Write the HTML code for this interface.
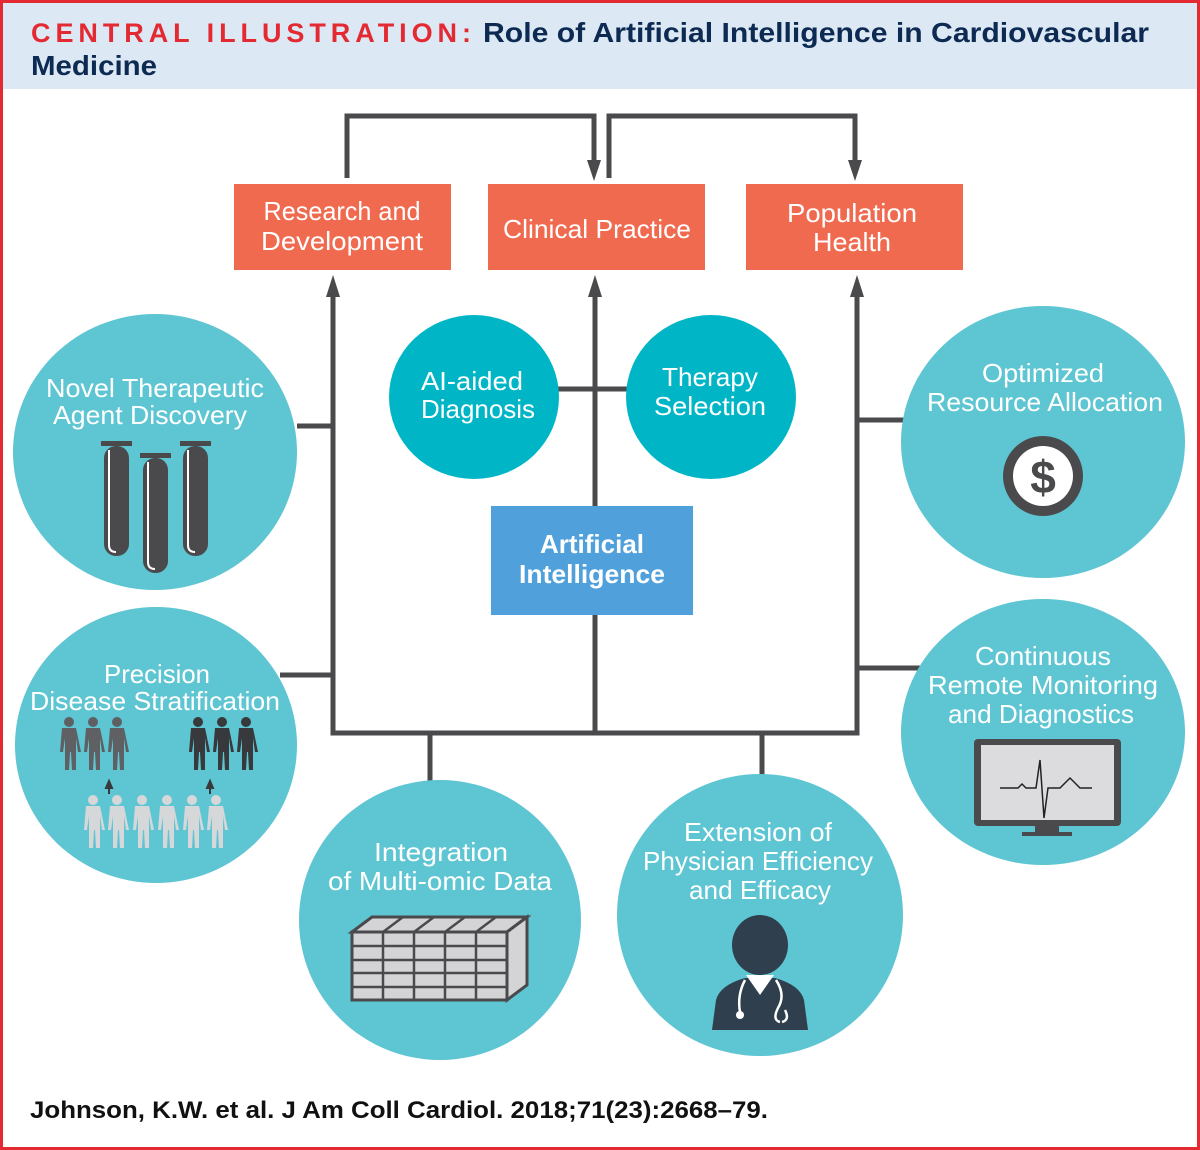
<!DOCTYPE html>
<html><head><meta charset="utf-8"><style>
html,body{margin:0;padding:0;background:#fff}
svg{display:block}
text{font-family:"Liberation Sans",sans-serif;}
</style></head><body>
<svg width="1200" height="1150" viewBox="0 0 1200 1150" xmlns="http://www.w3.org/2000/svg">
<rect x="0" y="0" width="1200" height="1150" fill="#fff"/>
<rect x="3" y="3" width="1194" height="86" fill="#dde8f5"/>
<rect x="1.5" y="1.5" width="1197" height="1147" fill="none" stroke="#e32a32" stroke-width="3"/>
<text x="31" y="42" font-weight="bold" font-size="27" fill="#e32a32" textLength="440" lengthAdjust="spacing">CENTRAL ILLUSTRATION:</text>
<text x="483" y="42" font-weight="bold" font-size="28" fill="#0d2a52" textLength="666" lengthAdjust="spacingAndGlyphs">Role of Artificial Intelligence in Cardiovascular</text>
<text x="31" y="75" font-weight="bold" font-size="28" fill="#0d2a52" textLength="126" lengthAdjust="spacingAndGlyphs">Medicine</text>

<g stroke="#4a4a4d" stroke-width="5" fill="none">
<polyline points="347,178 347,116 594,116 594,165"/>
<polyline points="609,178 609,116 855,116 855,165"/>
<polyline points="333,288 333,733 857,733 857,288"/>
<line x1="595" y1="288" x2="595" y2="506"/>
<line x1="595" y1="615" x2="595" y2="733"/>
<line x1="297" y1="426" x2="333" y2="426"/>
<line x1="280" y1="675" x2="333" y2="675"/>
<line x1="430" y1="733" x2="430" y2="782"/>
<line x1="762" y1="733" x2="762" y2="778"/>
<line x1="857" y1="420" x2="905" y2="420"/>
<line x1="857" y1="668" x2="922" y2="668"/>
<line x1="555" y1="389" x2="630" y2="389"/>
</g>
<g fill="#4a4a4d">
<polygon points="587,160 601,160 594,181"/>
<polygon points="848,160 862,160 855,181"/>
<polygon points="326,297 340,297 333,275"/>
<polygon points="588,297 602,297 595,275"/>
<polygon points="850,297 864,297 857,275"/>
</g>

<g fill="#f06a50">
<rect x="234" y="184" width="217" height="86"/>
<rect x="488" y="184" width="217" height="86"/>
<rect x="746" y="184" width="217" height="86"/>
</g>
<g fill="#fff" font-size="26" text-anchor="middle">
<text x="342" y="220" textLength="157" lengthAdjust="spacingAndGlyphs">Research and</text>
<text x="342" y="250" textLength="162" lengthAdjust="spacingAndGlyphs">Development</text>
<text x="597" y="238" textLength="188" lengthAdjust="spacingAndGlyphs">Clinical Practice</text>
<text x="852" y="222" textLength="130" lengthAdjust="spacingAndGlyphs">Population</text>
<text x="852" y="251" textLength="78" lengthAdjust="spacingAndGlyphs">Health</text>
</g>

<rect x="491" y="506" width="202" height="109" fill="#4fa0db"/>
<g fill="#fff" font-size="26" font-weight="bold" text-anchor="middle">
<text x="592" y="553" textLength="104" lengthAdjust="spacingAndGlyphs">Artificial</text>
<text x="592" y="583" textLength="146" lengthAdjust="spacingAndGlyphs">Intelligence</text>
</g>

<g fill="#00b5c6">
<ellipse cx="474" cy="397" rx="85" ry="82"/>
<ellipse cx="711" cy="397" rx="85" ry="82"/>
</g>
<g fill="#5ec5d2">
<ellipse cx="155" cy="452" rx="142" ry="138"/>
<ellipse cx="156" cy="745" rx="141" ry="138"/>
<ellipse cx="440" cy="920" rx="141" ry="140"/>
<ellipse cx="760" cy="915" rx="143" ry="141"/>
<ellipse cx="1043" cy="442" rx="142" ry="136"/>
<ellipse cx="1043" cy="732" rx="142" ry="133"/>
</g>

<g fill="#fff" font-size="26" text-anchor="middle">
<text x="472" y="390" textLength="102" lengthAdjust="spacingAndGlyphs">AI-aided</text>
<text x="478" y="418" textLength="114" lengthAdjust="spacingAndGlyphs">Diagnosis</text>
<text x="710" y="386" textLength="96" lengthAdjust="spacingAndGlyphs">Therapy</text>
<text x="710" y="415" textLength="112" lengthAdjust="spacingAndGlyphs">Selection</text>
<text x="155" y="397" textLength="218" lengthAdjust="spacingAndGlyphs">Novel Therapeutic</text>
<text x="150" y="424" textLength="194" lengthAdjust="spacingAndGlyphs">Agent Discovery</text>
<text x="157" y="683" textLength="106" lengthAdjust="spacingAndGlyphs">Precision</text>
<text x="155" y="710" textLength="250" lengthAdjust="spacingAndGlyphs">Disease Stratification</text>
<text x="441" y="861" textLength="134" lengthAdjust="spacingAndGlyphs">Integration</text>
<text x="440" y="890" textLength="224" lengthAdjust="spacingAndGlyphs">of Multi-omic Data</text>
<text x="758" y="841" textLength="148" lengthAdjust="spacingAndGlyphs">Extension of</text>
<text x="758" y="870" textLength="230" lengthAdjust="spacingAndGlyphs">Physician Efficiency</text>
<text x="760" y="899" textLength="142" lengthAdjust="spacingAndGlyphs">and Efficacy</text>
<text x="1043" y="382" textLength="122" lengthAdjust="spacingAndGlyphs">Optimized</text>
<text x="1045" y="411" textLength="236" lengthAdjust="spacingAndGlyphs">Resource Allocation</text>
<text x="1043" y="665" textLength="136" lengthAdjust="spacingAndGlyphs">Continuous</text>
<text x="1043" y="694" textLength="230" lengthAdjust="spacingAndGlyphs">Remote Monitoring</text>
<text x="1041" y="723" textLength="186" lengthAdjust="spacingAndGlyphs">and Diagnostics</text>
</g>

<!-- test tubes -->
<g fill="#4a4a4d">
<rect x="101" y="441" width="31" height="5"/>
<rect x="104" y="446" width="25" height="110" rx="12"/>
<rect x="140" y="453" width="31" height="5"/>
<rect x="143" y="458" width="25" height="115" rx="12"/>
<rect x="180" y="441" width="31" height="5"/>
<rect x="183" y="446" width="25" height="110" rx="12"/>
</g>
<g stroke="#fff" stroke-width="2" fill="none">
<path d="M109,450 V545 Q109,552 116,552"/>
<path d="M148,462 V562 Q148,569 155,569"/>
<path d="M188,450 V545 Q188,552 195,552"/>
</g>

<!-- people -->
<defs>
<g id="pp">
<circle cx="0" cy="0" r="5"/>
<path d="M-7,6 h14 l5,24 h-3 l-2,-14 v32 h-4 l-1,-18 h-1 l-1,18 h-4 v-32 l-2,14 h-3 z"/>
</g>
</defs>
<g fill="#5f6063">
<use href="#pp" x="69" y="722"/><use href="#pp" x="93" y="722"/><use href="#pp" x="117" y="722"/>
</g>
<g fill="#38393c">
<use href="#pp" x="198" y="722"/><use href="#pp" x="222" y="722"/><use href="#pp" x="246" y="722"/>
</g>
<g fill="#d6d7d9">
<use href="#pp" x="93" y="800"/><use href="#pp" x="117" y="800"/><use href="#pp" x="142" y="800"/>
<use href="#pp" x="167" y="800"/><use href="#pp" x="192" y="800"/><use href="#pp" x="216" y="800"/>
</g>
<g stroke="#38393c" stroke-width="2" fill="#38393c">
<line x1="109" y1="794" x2="109" y2="786"/><polygon points="106,788 112,788 109,781"/>
<line x1="210" y1="794" x2="210" y2="786"/><polygon points="207,788 213,788 210,781"/>
</g>

<!-- data cube -->
<g stroke="#4a4a4d" stroke-width="3" fill="#d4d4d6">
<polygon points="352,932 372,917 527,917 507,932"/>
<polygon points="507,932 527,917 527,985 507,1000"/>
<rect x="352" y="932" width="155" height="68"/>
</g>
<g stroke="#4a4a4d" stroke-width="2.5">
<line x1="383" y1="932" x2="383" y2="1000"/><line x1="414" y1="932" x2="414" y2="1000"/>
<line x1="445" y1="932" x2="445" y2="1000"/><line x1="476" y1="932" x2="476" y2="1000"/>
<line x1="352" y1="946" x2="507" y2="946"/><line x1="352" y1="960" x2="507" y2="960"/>
<line x1="352" y1="973" x2="507" y2="973"/><line x1="352" y1="987" x2="507" y2="987"/>
<line x1="383" y1="932" x2="403" y2="917"/><line x1="414" y1="932" x2="434" y2="917"/>
<line x1="445" y1="932" x2="465" y2="917"/><line x1="476" y1="932" x2="496" y2="917"/>
</g>

<!-- doctor -->
<g fill="#2f3f4e">
<ellipse cx="760" cy="945" rx="28" ry="30"/>
<path d="M712,1030 L716,1000 Q720,985 745,978 L775,978 Q800,985 804,1000 L808,1030 Z"/>
</g>
<path d="M746,975 L760,995 L774,975 Z" fill="#fff"/>
<g stroke="#fff" stroke-width="2.5" fill="none">
<path d="M745,980 Q737,995 740,1012"/>
<path d="M776,980 Q786,995 778,1008 Q772,1020 780,1022 M785,1010 Q790,1020 782,1022"/>
</g>
<circle cx="740" cy="1015" r="4" fill="#fff"/>

<!-- dollar -->
<circle cx="1043" cy="476" r="40" fill="#4a4a4d"/>
<circle cx="1043" cy="476" r="30" fill="#fff"/>
<text x="1043" y="493" text-anchor="middle" font-size="46" font-weight="bold" fill="#4a4a4d">$</text>

<!-- monitor -->
<rect x="974" y="739" width="147" height="87" rx="4" fill="#4a4a4d"/>
<rect x="981" y="745" width="133" height="75" fill="#dcdcde"/>
<rect x="1035" y="826" width="24" height="6" fill="#4a4a4d"/>
<rect x="1022" y="832" width="50" height="4" fill="#4a4a4d"/>
<polyline points="1000,788 1018,788 1022,784 1026,788 1036,788 1040,760 1044,818 1048,788 1060,788 1070,778 1080,788 1092,788" fill="none" stroke="#222" stroke-width="1.5"/>

<text x="30" y="1118" font-weight="bold" font-size="24" fill="#111" textLength="738" lengthAdjust="spacingAndGlyphs">Johnson, K.W. et al. J Am Coll Cardiol. 2018;71(23):2668–79.</text>
</svg>
</body></html>
